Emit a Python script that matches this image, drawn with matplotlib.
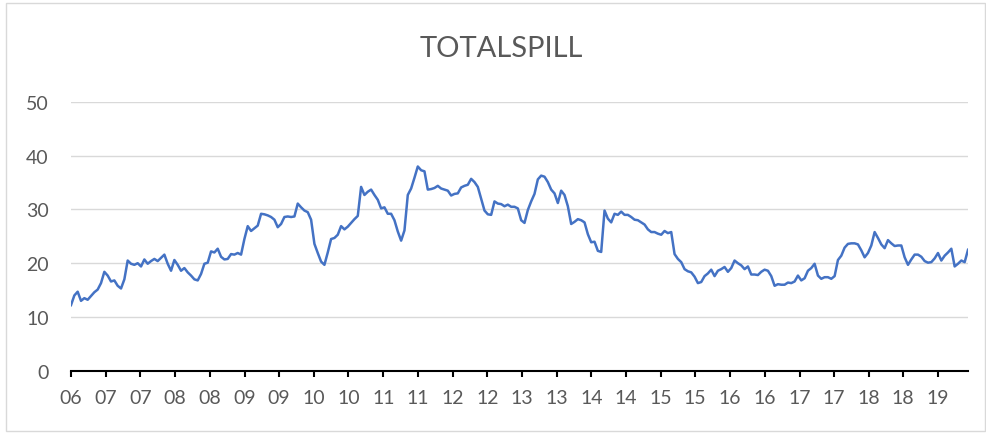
import numpy as np
import pandas as pd
import matplotlib
matplotlib.use("Agg")
import matplotlib.pyplot as plt
from matplotlib.patches import Rectangle

# values, roughly every 17-18 days from mid 2006 to mid 2019
totalspill_0609 = [
    12.2, 14.0, 14.7, 13.0, 13.5, 13.2, 13.9, 14.6, 15.1, 16.3, 18.4, 17.7, 16.6, 16.8, 15.8, 15.3,
    17.0, 20.5, 19.9, 19.7, 20.0, 19.4, 20.7, 19.9, 20.4, 20.8, 20.4, 21.0, 21.6, 19.9, 18.6, 20.6,
    19.7, 18.6, 19.1, 18.3, 17.7, 17.0, 16.8, 18.0, 19.9, 20.1, 22.2, 22.0, 22.7, 21.2, 20.7, 20.8,
    21.7, 21.6, 21.9, 21.6, 24.5, 26.9, 26.0, 26.5, 27.0, 29.2, 29.1, 28.9, 28.6, 28.1, 26.7, 27.3,
    28.6, 28.7,
]
totalspill_0912 = [
    28.6, 28.7, 31.1, 30.4, 29.8, 29.5, 28.1, 23.6, 21.9, 20.3, 19.7, 22.0, 24.5, 24.7, 25.3, 26.9,
    26.3, 26.8, 27.5, 28.2, 28.8, 34.2, 32.7, 33.3, 33.7, 32.7, 31.8, 30.2, 30.4, 29.2, 29.2, 28.0,
    25.9, 24.2, 26.1, 32.7, 33.9, 35.9, 38.0, 37.3, 37.1, 33.7, 33.8, 34.0, 34.4, 33.9, 33.7, 33.5,
    32.6, 32.9, 33.0, 34.1, 34.4, 34.6, 35.7, 35.1, 34.2, 32.0, 29.8, 29.1, 29.0, 31.5, 31.1, 31.0,
    30.6, 30.9, 30.5, 30.5, 30.2,
]
totalspill_1216 = [
    28.0, 27.5, 29.9, 31.5, 32.9, 35.6, 36.3, 36.1, 35.1, 33.7, 33.0, 31.2, 33.5, 32.7, 30.6, 27.3,
    27.7, 28.2, 28.0, 27.6, 25.4, 23.9, 24.0, 22.3, 22.1, 29.8, 28.3, 27.6, 29.2, 29.0, 29.6, 29.0,
    29.0, 28.6, 28.1, 28.0, 27.6, 27.2, 26.3, 25.8, 25.8, 25.5, 25.3, 26.0, 25.6, 25.8, 21.7, 20.8,
    20.2, 18.9, 18.5, 18.3, 17.5, 16.3, 16.5, 17.6, 18.1, 18.8, 17.6, 18.6, 18.9, 19.3, 18.4, 19.1,
    20.5, 20.0,
]
totalspill_1619 = [
    19.6, 18.9, 19.4, 17.9, 17.9, 17.8, 18.4, 18.8, 18.6, 17.6, 15.8, 16.1, 16.0, 16.0, 16.4, 16.3,
    16.6, 17.7, 16.8, 17.2, 18.6, 19.1, 19.9, 17.7, 17.1, 17.4, 17.4, 17.1, 17.6, 20.6, 21.4, 22.9,
    23.6, 23.7, 23.7, 23.5, 22.4, 21.1, 21.9, 23.3, 25.8, 24.7, 23.5, 22.8, 24.3, 23.7, 23.2, 23.3,
    23.3, 21.1, 19.7, 20.7, 21.6, 21.6, 21.2, 20.4, 20.1, 20.2, 20.9, 21.9, 20.5, 21.4, 22.0, 22.7,
    19.4, 19.9, 20.5, 20.2, 22.5,
]
totalspill = totalspill_0609 + totalspill_0912 + totalspill_1216 + totalspill_1619

dates = pd.date_range("2006-07-01", "2019-06-07", periods=len(totalspill))
tick_dates = pd.date_range("2006-07-01", "2019-01-01", freq="6MS")
tick_labels = [d.strftime("%y") for d in tick_dates]
y_ticks = [0, 10, 20, 30, 40, 50]

plt.rcParams["font.family"] = ["Lato", "DejaVu Sans"]

fig = plt.figure(figsize=(9.87, 4.35), dpi=100)
fig.patches.append(Rectangle((6 / 987, 3 / 435), 979 / 987, 428 / 435, transform=fig.transFigure,
                             fill=False, edgecolor="#D9D9D9", lw=1))
ax = fig.add_axes([71 / 987, 1 - 371.7 / 435, 897 / 987, (371.7 - 103) / 435])

ax.plot(dates, totalspill, color="#4472C4", lw=1.8)

ax.set_ylim(0, 50)
ax.set_yticks(y_ticks)
ax.set_xlim(dates[0], dates[-1])
ax.set_xticks(tick_dates)
ax.set_xticklabels(tick_labels)
ax.grid(axis="y", color="#D9D9D9", lw=1)
ax.set_axisbelow(True)
for s in ["left", "right", "top"]:
    ax.spines[s].set_visible(False)
ax.spines["bottom"].set_color("black")
ax.spines["bottom"].set_linewidth(1.5)
ax.spines["bottom"].set_zorder(3)
ax.tick_params(axis="x", direction="out", length=4, width=1.5, color="black",
               pad=9, labelsize=14, labelcolor="#595959")
ax.tick_params(axis="y", length=0, pad=16, labelsize=14, labelcolor="#595959")

fig.text(0.508, 0.888, "TOTALSPILL", ha="center", va="center", fontsize=21,
         color="#595959", fontweight="normal")

fig.savefig("out.png", dpi=100)
